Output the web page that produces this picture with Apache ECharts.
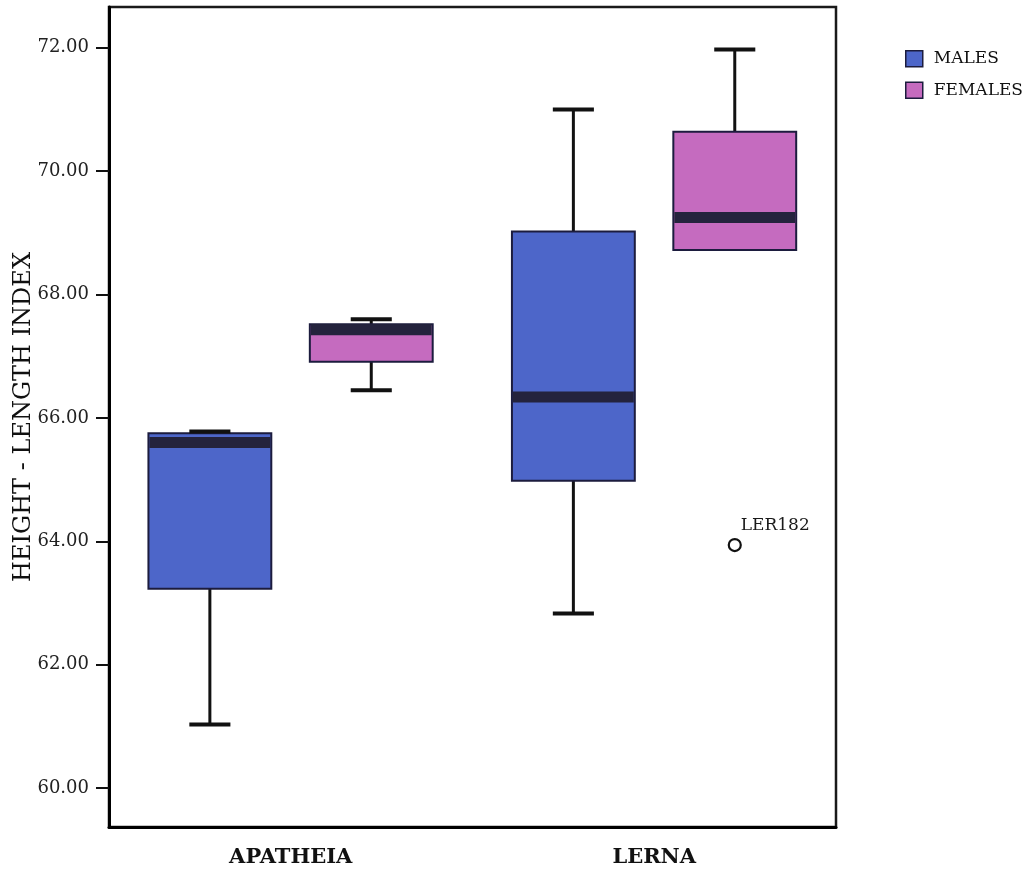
<!DOCTYPE html>
<html>
<head>
<meta charset="utf-8">
<title>Height - Length Index</title>
<script src="https://cdn.jsdelivr.net/npm/echarts@6/dist/echarts.min.js"></script>
<style>
  html, body { margin: 0; padding: 0; background: #fff; }
  #chart { width: 1030px; height: 870px; }
</style>
</head>
<body>
<div id="chart"></div>
<script>
// Sites on the x axis
const categories = ['APATHEIA', 'LERNA'];

// Five-number summaries per site: [min, Q1, median, Q3, max]
const males = [
  [61.03, 63.23, 65.60, 65.75, 65.78],
  [62.83, 64.98, 66.34, 69.02, 71.00]
];
const females = [
  [66.45, 66.91, 67.43, 67.52, 67.60],
  [68.71, 68.72, 69.25, 70.64, 71.97]
];

// Outliers: [site index, value, case label]
const femaleOutliers = [
  [1, 63.94, 'LER182']
];

// Y axis tick values
const yTicks = [60, 62, 64, 66, 68, 70, 72];

const SERIF = '"DejaVu Serif", "Liberation Serif", serif';
const MALE_COLOR = '#4d66c9';
const FEMALE_COLOR = '#c56bbf';
const EDGE = '#1c1c3e';

// Horizontal layout within one category band (fractions of band width)
const MALE_OFFSET = -0.2225;
const FEMALE_OFFSET = 0.2215;
const BOX_FRAC = 0.338;
const CAP_FRAC = 0.113;

function boxRenderer(offsetFrac, fill) {
  return function (params, api) {
    const cat = api.value(0);
    const band = api.size([1, 0])[0];
    const cx = api.coord([cat, 0])[0] + band * offsetFrac;
    const y = v => api.coord([cat, v])[1];
    const lo = y(api.value(1)), q1 = y(api.value(2)), med = y(api.value(3)),
          q3 = y(api.value(4)), hi = y(api.value(5));
    const bw = band * BOX_FRAC, cw = band * CAP_FRAC;
    const line = (x1, y1, x2, y2, w, c) => ({
      type: 'line',
      shape: { x1, y1, x2, y2 },
      style: { stroke: c, lineWidth: w }
    });
    const children = [
      line(cx, hi, cx, q3, 3, '#111'),
      line(cx, q1, cx, lo, 3, '#111'),
      {
        type: 'rect',
        shape: { x: cx - bw / 2, y: q3, width: bw, height: q1 - q3 },
        style: { fill, stroke: EDGE, lineWidth: 2 }
      },
      line(cx - bw / 2 + 1, med, cx + bw / 2 - 1, med, 11, '#24233d')
    ];
    // whisker caps only where the whisker actually leaves the box
    if (q3 - hi > 0.5) children.push(line(cx - cw / 2, hi, cx + cw / 2, hi, 4, '#111'));
    if (lo - q1 > 3) children.push(line(cx - cw / 2, lo, cx + cw / 2, lo, 4, '#111'));
    return { type: 'group', children };
  };
}

function outlierRenderer(offsetFrac) {
  return function (params, api) {
    const cat = api.value(0);
    const band = api.size([1, 0])[0];
    const p = api.coord([cat, api.value(1)]);
    const cx = p[0] + band * offsetFrac, cy = p[1];
    return {
      type: 'group',
      children: [
        {
          type: 'circle',
          shape: { cx, cy, r: 6 },
          style: { fill: '#fff', stroke: '#111', lineWidth: 2.2 }
        },
        {
          type: 'text',
          x: cx + 6,
          y: cy - 11,
          style: {
            text: api.value(2),
            fill: '#1a1a1a',
            fontSize: 17,
            fontFamily: SERIF,
            align: 'left',
            verticalAlign: 'bottom'
          }
        }
      ]
    };
  };
}

const chart = echarts.init(document.getElementById('chart'), null, { renderer: 'canvas' });

chart.setOption({
  backgroundColor: '#fff',
  animation: false,
  grid: {
    left: 109, top: 7, width: 727, height: 820,
    show: true, borderColor: '#1a1a1a', borderWidth: 2.5,
    containLabel: false, outerBoundsMode: 'none'
  },
  legend: {
    data: ['MALES', 'FEMALES'],
    orient: 'vertical',
    left: 900, top: 45,
    icon: 'rect',
    itemWidth: 17, itemHeight: 16, itemGap: 14,
    itemStyle: { borderColor: EDGE, borderWidth: 1.5 },
    textStyle: { fontFamily: SERIF, fontSize: 17, color: '#111', padding: [0, 0, 0, 6] }
  },
  xAxis: {
    type: 'category',
    data: categories,
    boundaryGap: true,
    axisLine: { lineStyle: { color: '#000', width: 3 } },
    axisTick: { alignWithLabel: true, length: 11, lineStyle: { color: '#111', width: 2 } },
    axisLabel: { fontFamily: SERIF, fontWeight: 'bold', fontSize: 21, color: '#111', margin: 20 },
    splitLine: { show: false }
  },
  yAxis: {
    type: 'value',
    min: 59.37,
    max: 72.66,
    name: 'HEIGHT - LENGTH INDEX',
    nameLocation: 'middle',
    nameRotate: 90,
    nameGap: 73,
    nameMoveOverlap: false,
    nameTextStyle: { fontFamily: SERIF, fontSize: 24, color: '#111' },
    axisLine: { show: true, lineStyle: { color: '#000', width: 3 } },
    axisTick: { show: true, length: 13, customValues: yTicks, lineStyle: { color: '#111', width: 2 } },
    axisLabel: {
      customValues: yTicks,
      margin: 20,
      fontFamily: SERIF,
      fontSize: 18,
      color: '#222',
      formatter: v => Number(v).toFixed(2)
    },
    splitLine: { show: false }
  },
  series: [
    {
      name: 'MALES',
      type: 'custom',
      itemStyle: { color: MALE_COLOR },
      clip: false,
      renderItem: boxRenderer(MALE_OFFSET, MALE_COLOR),
      encode: { x: 0, y: [1, 2, 3, 4, 5] },
      data: males.map((s, i) => [i].concat(s))
    },
    {
      name: 'FEMALES',
      type: 'custom',
      itemStyle: { color: FEMALE_COLOR },
      clip: false,
      renderItem: boxRenderer(FEMALE_OFFSET, FEMALE_COLOR),
      encode: { x: 0, y: [1, 2, 3, 4, 5] },
      data: females.map((s, i) => [i].concat(s))
    },
    {
      name: 'FEMALES outliers',
      type: 'custom',
      clip: false,
      renderItem: outlierRenderer(FEMALE_OFFSET),
      encode: { x: 0, y: 1 },
      dimensions: ['site', 'value', { name: 'case', type: 'ordinal' }],
      data: femaleOutliers
    }
  ]
});
</script>
</body>
</html>
